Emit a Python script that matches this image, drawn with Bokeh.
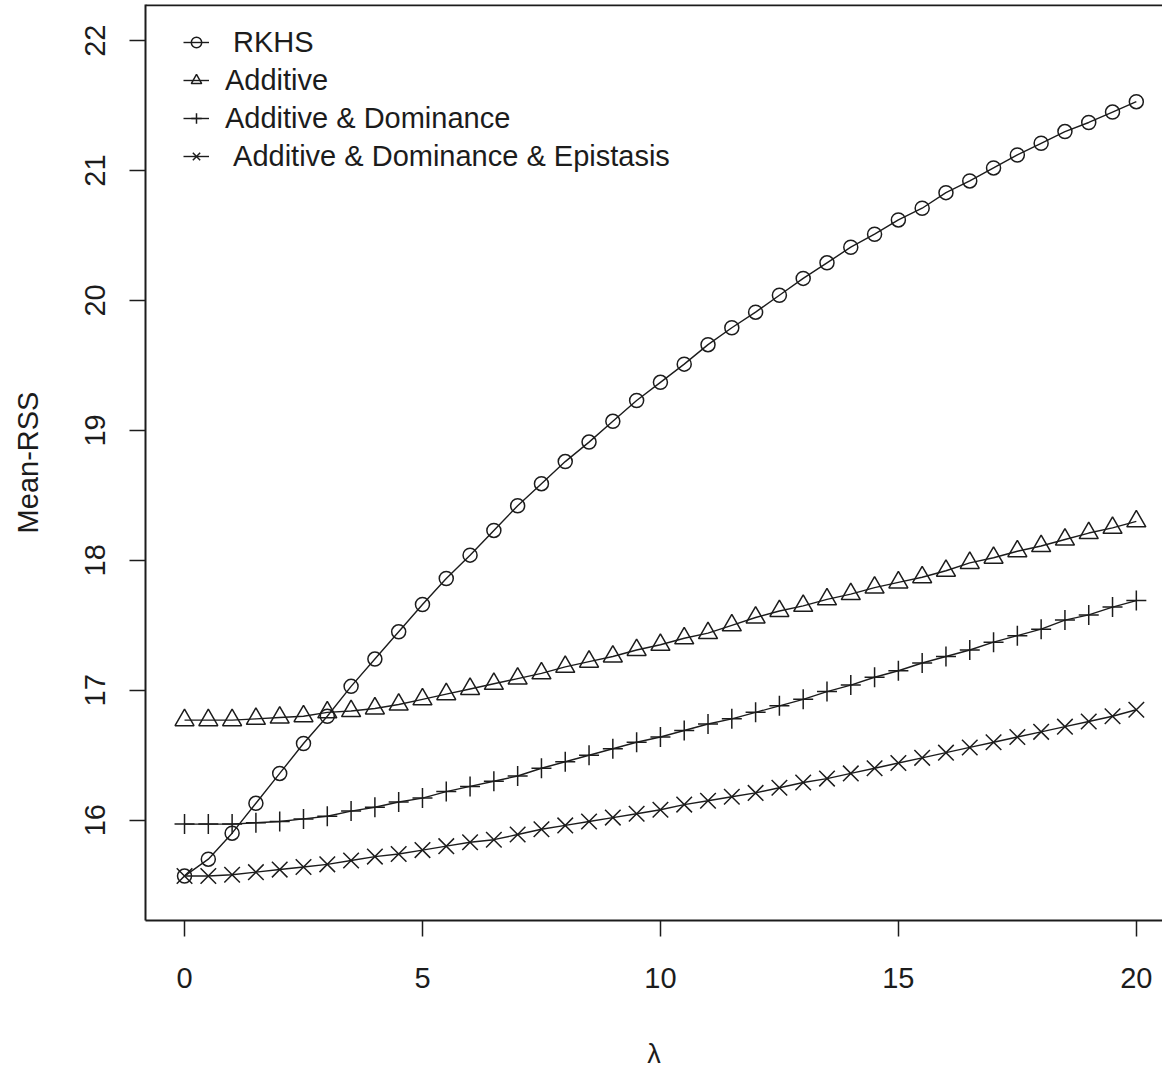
from bokeh.plotting import figure
from bokeh.models import (Range1d, FixedTicker, Legend, LegendItem, Span)
from bokeh.embed import file_html
from bokeh.resources import INLINE

# penalty parameter grid
lam = [0.0, 0.5, 1.0, 1.5, 2.0, 2.5, 3.0, 3.5, 4.0, 4.5, 5.0, 5.5, 6.0, 6.5,
       7.0, 7.5, 8.0, 8.5, 9.0, 9.5, 10.0, 10.5, 11.0, 11.5, 12.0, 12.5,
       13.0, 13.5, 14.0, 14.5, 15.0, 15.5, 16.0, 16.5, 17.0, 17.5, 18.0,
       18.5, 19.0, 19.5, 20.0]

# mean residual sum of squares per model
rkhs = [15.57, 15.70, 15.90, 16.13, 16.36, 16.59, 16.80, 17.03, 17.24, 17.45,
        17.66, 17.86, 18.04, 18.23, 18.42, 18.59, 18.76, 18.91, 19.07, 19.23,
        19.37, 19.51, 19.66, 19.79, 19.91, 20.04, 20.17, 20.29, 20.41, 20.51,
        20.62, 20.71, 20.83, 20.92, 21.02, 21.12, 21.21, 21.30, 21.37, 21.45,
        21.53]
additive = [16.77, 16.77, 16.77, 16.78, 16.79, 16.80, 16.83, 16.84, 16.86,
            16.89, 16.93, 16.97, 17.01, 17.05, 17.09, 17.13, 17.18, 17.22,
            17.26, 17.31, 17.35, 17.40, 17.44, 17.50, 17.56, 17.61, 17.65,
            17.70, 17.74, 17.79, 17.83, 17.87, 17.92, 17.98, 18.02, 18.07,
            18.11, 18.16, 18.21, 18.25, 18.30]
add_dom = [15.97, 15.97, 15.97, 15.98, 15.99, 16.01, 16.03, 16.07, 16.10,
           16.14, 16.17, 16.22, 16.26, 16.30, 16.34, 16.40, 16.45, 16.50,
           16.55, 16.60, 16.64, 16.69, 16.74, 16.78, 16.83, 16.88, 16.93,
           16.99, 17.04, 17.10, 17.15, 17.21, 17.26, 17.31, 17.37, 17.42,
           17.47, 17.54, 17.58, 17.64, 17.69]
add_dom_epi = [15.57, 15.57, 15.58, 15.60, 15.62, 15.64, 15.66, 15.69, 15.72,
               15.74, 15.77, 15.80, 15.83, 15.85, 15.89, 15.93, 15.96, 15.99,
               16.02, 16.05, 16.08, 16.12, 16.15, 16.18, 16.21, 16.25, 16.29,
               16.32, 16.36, 16.40, 16.44, 16.48, 16.52, 16.56, 16.60, 16.64,
               16.68, 16.72, 16.76, 16.80, 16.85]

labels = ["\u00a0RKHS", "Additive", "Additive & Dominance",
          "\u00a0Additive & Dominance & Epistasis"]
x_ticks = [0, 5, 10, 15, 20]
y_ticks = [16, 17, 18, 19, 20, 21, 22]

INK = "#1c1c1c"
FONT = "Liberation Sans"

p = figure(width=1162, height=1071, output_backend="svg", toolbar_location=None,
           x_range=Range1d(-0.82, 20.55), y_range=Range1d(15.228, 22.278),
           min_border_left=145, min_border_right=0, min_border_top=4,
           min_border_bottom=151)
p.outline_line_color = None
p.grid.visible = False
p.background_fill_color = "white"
p.border_fill_color = "white"

# box: top edge drawn as a span, left and bottom via the axis lines
p.add_layout(Span(location=22.278, dimension="width", line_color=INK,
                  line_width=3.5))

for ax in (p.xaxis[0], p.yaxis[0]):
    ax.axis_line_color = INK
    ax.axis_line_width = 2
    ax.major_tick_line_color = INK
    ax.major_tick_line_width = 1.5
    ax.major_tick_out = 16
    ax.major_tick_in = 0
    ax.minor_tick_line_color = None
    ax.major_label_text_font = FONT
    ax.major_label_text_font_size = "29px"
    ax.major_label_text_color = INK
    ax.axis_label_text_font = FONT
    ax.axis_label_text_font_size = "29px"
    ax.axis_label_text_font_style = "normal"
    ax.axis_label_text_color = INK

p.xaxis.ticker = FixedTicker(ticks=x_ticks)
p.yaxis.ticker = FixedTicker(ticks=y_ticks)
p.yaxis.major_label_orientation = "vertical"
p.xaxis.major_label_standoff = 31
p.yaxis.major_label_standoff = 24
p.xaxis.axis_label = "\u03bb"
p.yaxis.axis_label = "Mean-RSS"
p.xaxis.axis_label_text_font_size = "27px"
p.xaxis.axis_label_standoff = 48
p.yaxis.axis_label_standoff = 39

series = [
    (rkhs, "circle", 14),
    (additive, "triangle", 19),
    (add_dom, "cross", 20),
    (add_dom_epi, "x", 22),
]

items = []
for (vals, marker, size), lab in zip(series, labels):
    ln = p.line(lam, vals, line_color=INK, line_width=1.4)
    sc = p.scatter(lam, vals, marker=marker, size=size, line_color=INK,
                   line_width=1.5, fill_color=None)
    items.append(LegendItem(label=lab, renderers=[ln, sc]))

legend = Legend(items=items, location=(38, 747), border_line_color=None,
                background_fill_alpha=0, padding=0, margin=0, spacing=4,
                label_height=34, glyph_height=34, glyph_width=26,
                label_standoff=16, label_text_font=FONT,
                label_text_font_size="29px", label_text_color=INK)
p.add_layout(legend)

open("out.html", "w").write(file_html(p, INLINE))
